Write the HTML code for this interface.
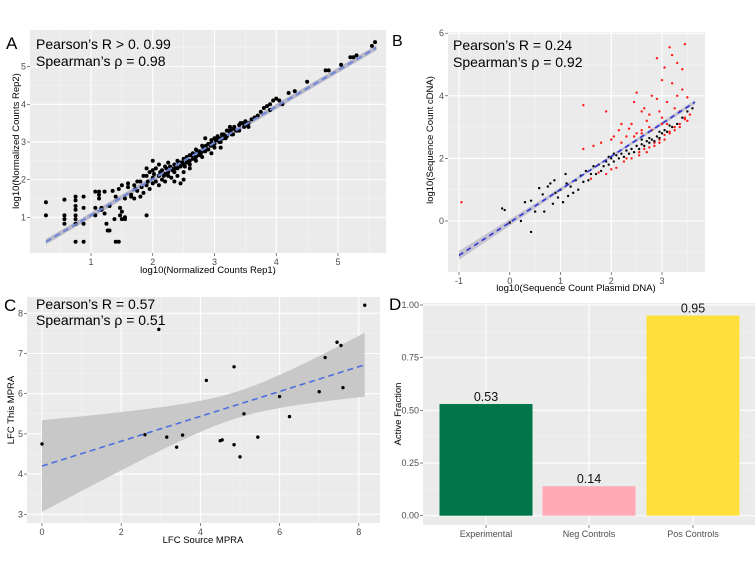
<!DOCTYPE html>
<html><head><meta charset="utf-8"><style>
html,body{margin:0;padding:0;background:#fff}
svg{display:block;font-family:"Liberation Sans",sans-serif}
</style></head><body>
<svg id="fig" width="756" height="564" viewBox="0 0 756 564"></svg>
<script>
// ---------- Panel A data ----------
const aX = [0.27,0.27,0.57,0.57,0.57,0.57,0.75,0.75,0.75,0.75,0.75,0.75,0.75,0.75,0.88,0.88,0.88,0.88,1.07,1.07,1.07,1.13,1.13,1.13,1.17,1.17,1.22,1.22,1.25,1.27,1.3,1.3,1.35,1.38,1.4,1.45,1.47,1.47,1.5,1.5,1.55,1.55,1.9,
1.6,1.65,1.7,1.75,1.8,1.8,1.85,1.9,1.95,1.95,2.0,2.0,2.0,2.05,2.05,2.1,2.1,2.15,2.15,2.2,2.2,2.2,2.25,2.25,2.3,2.3,2.35,2.35,2.4,2.4,2.4,2.45,2.45,2.5,2.5,2.5,2.55,2.55,2.6,2.6,2.6,2.65,2.65,2.7,2.7,2.7,2.75,2.75,2.8,2.8,2.8,2.85,2.85,2.9,2.9,2.95,2.95,3.0,3.0,3.0,3.05,3.05,3.1,3.1,3.15,3.15,3.2,3.2,3.25,3.3,3.3,3.35,3.4,3.45,3.5,3.5,3.6,3.7,3.75,3.8,3.9,3.9,3.95,4.0,4.1,4.3,4.2,4.5,4.8,4.85,5.05,5.2,5.25,5.3,5.55,5.6,
1.4,1.45,1.5,1.55,1.6,1.65,1.7,1.75,1.85,1.9,1.9,2.0,2.1,2.25,2.35,2.45,2.5,2.6,2.85,2.95,3.1,3.25,3.4,3.55,
2.12,2.18,2.28,2.32,2.38,2.42,2.48,2.52,2.58,2.62,2.68,2.72,2.78,2.82,2.88,2.92,2.98,3.02,3.08,3.12,3.18,3.22,3.28,3.32,3.38,3.42,3.48,2.22,2.36,2.52,2.66,2.74,2.86,2.94,3.06,3.14,3.26,1.72,1.82,1.92,2.02,3.55,3.65,3.85,4.05];
const aY = [1.4,1.05,1.47,1.05,0.95,0.83,1.55,1.45,1.3,1.2,1.05,0.95,0.83,0.35,1.55,1.25,0.83,0.35,1.68,1.25,1.05,1.68,1.6,1.5,1.25,1.2,1.68,1.1,0.83,0.65,0.65,1.3,1.7,0.95,0.35,0.35,1.05,1.25,1.15,0.95,1.0,0.95,1.05,
1.8,1.6,1.85,1.7,1.95,1.55,2.1,1.85,2.2,1.75,2.5,2.05,1.9,1.95,2.3,2.1,1.85,2.25,2.0,2.35,2.15,1.95,2.2,2.45,2.3,2.05,2.4,2.2,2.5,2.3,2.1,2.45,2.35,2.55,2.4,2.2,2.6,2.45,2.65,2.5,2.4,2.7,2.55,2.8,2.6,2.5,2.75,2.65,2.9,2.75,2.6,2.85,2.75,2.95,2.8,2.95,3.05,3.1,2.95,2.85,3.05,3.15,3.1,3.0,3.2,3.1,3.3,3.15,3.25,3.35,3.2,3.3,3.45,3.5,3.55,3.45,3.6,3.7,3.8,3.9,4.0,3.85,4.1,4.15,4.0,4.35,4.3,4.6,4.9,4.9,5.05,5.25,5.25,5.3,5.55,5.65,
1.55,1.75,1.85,1.5,1.9,1.55,1.5,1.95,1.65,2.1,2.3,2.25,2.4,2.1,1.95,1.9,2.0,2.3,3.1,2.7,2.85,3.4,3.3,3.4,
2.2,2.1,2.35,2.25,2.35,2.45,2.45,2.55,2.5,2.65,2.6,2.75,2.7,2.85,2.8,2.95,2.9,3.05,3.0,3.2,3.1,3.3,3.2,3.4,3.3,3.5,3.4,2.3,2.3,2.35,2.6,2.7,2.9,2.9,3.1,3.1,3.3,1.75,1.8,1.95,2.15,3.5,3.65,3.95,4.1];
const aTicks = [1,2,3,4,5];
// ---------- Panel B data ----------
const bBlackX = [-0.15,-0.1,0,0.22,0.3,0.42,0.42,0.5,0.58,0.65,0.68,0.75,0.8,0.85,0.88,0.9,0.95,1.0,1.05,1.1,1.12,1.15,1.2,1.25,1.3,1.35,1.4,1.45,1.5,1.55,1.6,1.65,1.7,1.75,1.8,1.85,1.9,1.95,2.0,2.05,2.1,2.15,2.2,2.25,2.3,2.35,2.4,2.45,2.5,2.55,2.6,2.65,2.7,2.75,2.8,2.85,2.9,2.95,3.0,3.05,3.1,3.2,3.3,3.4,3.5,3.6,1.95,2.05,2.6,2.75,2.95,3.15];
const bBlackY = [0.4,0.35,-0.05,0.0,0.6,0.65,-0.35,0.3,1.05,0.85,0.3,1.1,1.2,0.55,1.3,0.9,0.75,1.0,0.6,1.5,1.2,0.8,1.1,0.9,1.3,1.0,1.45,1.25,1.6,1.3,1.5,1.75,1.5,1.8,1.6,1.75,1.9,1.8,2.0,1.9,2.1,2.0,2.15,2.05,2.25,2.15,2.3,2.2,2.4,2.3,2.45,2.4,2.55,2.5,2.6,2.55,2.7,2.65,2.8,2.9,2.85,3.0,3.1,3.3,3.5,3.6,2.05,2.15,2.6,2.65,2.85,3.05];
const bRedX = [-0.95,1.45,1.9,1.45,1.65,1.8,1.9,2.0,2.05,2.1,2.15,2.2,2.25,2.3,2.35,2.4,2.4,2.45,2.5,2.5,2.55,2.6,2.6,2.65,2.7,2.7,2.75,2.8,2.8,2.85,2.9,2.9,2.95,2.95,3.0,3.0,3.05,3.05,3.1,3.1,3.15,3.15,3.2,3.2,3.25,3.25,3.3,3.3,3.35,3.35,3.4,3.4,3.45,3.45,3.5,3.5,3.55,1.6,1.75,2.0,2.3,2.55,2.65,2.75,2.85,2.95,3.05,3.15,3.25,3.35,3.45,2.2,2.45,2.6,2.75,3.0];
const bRedY = [0.6,3.7,3.5,2.3,2.4,2.5,1.5,2.6,2.7,1.7,2.9,3.1,1.9,2.7,2.95,3.1,2.0,3.8,4.1,2.8,2.1,3.5,2.9,3.6,2.2,3.2,3.4,4.0,2.9,2.4,5.2,3.9,3.5,2.5,4.5,3.3,4.9,2.6,3.8,3.1,5.55,2.8,5.3,4.4,3.6,2.9,5.05,4.0,3.5,3.0,4.85,4.2,5.65,3.3,3.95,3.2,3.4,1.35,1.55,1.65,2.0,2.2,2.3,2.35,2.5,2.6,2.75,2.85,3.0,3.1,3.25,2.5,2.7,2.8,3.0,3.1];
const bXTicks = [-1,0,1,2,3];
const bYTicks = [0,2,4,6];
// ---------- Panel C data ----------
const cX = [0,2.6,2.95,3.15,3.4,3.55,4.15,4.5,4.55,4.85,4.85,5.0,5.1,5.45,6.0,6.25,7.0,7.15,7.45,7.55,7.6,8.15];
const cY = [4.75,4.98,7.6,4.92,4.67,4.97,6.33,4.83,4.85,6.67,4.73,4.43,5.5,4.92,5.93,5.43,6.05,6.9,7.28,7.2,6.15,8.2];
const cXTicks = [0,2,4,6,8];
const cYTicks = [3,4,5,6,7,8];
// ---------- Panel D data ----------
const dCats = ["Experimental","Neg Controls","Pos Controls"];
const dVals = [0.53,0.14,0.95];
const dLabels = ["0.53","0.14","0.95"];
const dColors = ["#00754a","#ffaab4","#ffe03a"];
const dYTicks = [0,0.25,0.5,0.75,1.0];
const dYTickLabels = ["0.00","0.25","0.50","0.75","1.00"];

const NS="http://www.w3.org/2000/svg";
const svg=document.getElementById('fig');
function el(tag,attrs,parent,txt){const e=document.createElementNS(NS,tag);for(const k in attrs)e.setAttribute(k,attrs[k]);if(txt!==undefined)e.textContent=txt;(parent||svg).appendChild(e);return e;}

function panel(name,x0,y0,x1,y1,sx,sy,xt,yt,xtl,ytl,minorX,minorY){
  const g=el('g',{},svg);
  
  
  const bg=el('rect',{x:x0,y:y0,width:x1-x0,height:y1-y0,fill:'#ebebeb'},g);
  
  
  (minorX||[]).forEach(v=>el('line',{x1:sx(v),x2:sx(v),y1:y0,y2:y1,stroke:'#f5f5f5','stroke-width':0.6},g));
  (minorY||[]).forEach(v=>el('line',{y1:sy(v),y2:sy(v),x1:x0,x2:x1,stroke:'#f5f5f5','stroke-width':0.6},g));
  if(xt) xt.forEach((v,i)=>{
    el('line',{x1:sx(v),x2:sx(v),y1:y0,y2:y1,stroke:'#fff','stroke-width':1.1},g);
    el('line',{x1:sx(v),x2:sx(v),y1:y1,y2:y1+3,stroke:'#333','stroke-width':0.6},g);
    const t=el('text',{x:sx(v),y:y1+12,'font-size':9,fill:'#4d4d4d','text-anchor':'middle'},g,xtl[i]);
    
    
  });
  yt.forEach((v,i)=>{
    el('line',{y1:sy(v),y2:sy(v),x1:x0,x2:x1,stroke:'#fff','stroke-width':1.1},g);
    el('line',{y1:sy(v),y2:sy(v),x1:x0-3,x2:x0,stroke:'#333','stroke-width':0.6},g);
    const t=el('text',{x:x0-4,y:sy(v)+3,'font-size':9,fill:'#4d4d4d','text-anchor':'end'},g,ytl[i]);
    
    
  });
  return g;
}
function txt(name,x,y,s,size,extra){const t=el('text',Object.assign({x:x,y:y,'font-size':size,fill:'#000'},extra||{}),svg,s);return t;}
function halves(a,b){const r=[];for(let v=a;v<=b;v+=1)r.push(v+0.5);return r;}

// ===== Panel A =====
{
const sx=v=>91+(v-1)*61.75, sy=v=>217.3-(v-1)*37.67;
const g=panel('panel-a',30,30,386,253,sx,sy,aTicks,aTicks,aTicks.map(String),aTicks.map(String),halves(0,5),halves(0,5));
const x0=0.27,x1=5.62,f=v=>0.35+(v-0.27)*(5.5-0.35)/(5.62-0.27);
el('polygon',{points:`${sx(x0)},${sy(f(x0)+0.07)} ${sx(x1)},${sy(f(x1)+0.07)} ${sx(x1)},${sy(f(x1)-0.07)} ${sx(x0)},${sy(f(x0)-0.07)}`,fill:'#b8b8c8'},g);
aX.forEach((v,i)=>{const c=el('circle',{cx:sx(v),cy:sy(aY[i]),r:2,fill:'#000'},g);});
const ln=el('line',{x1:sx(x0),y1:sy(f(x0)),x2:sx(x1),y2:sy(f(x1)),stroke:'#6f86d6','stroke-width':2,'stroke-dasharray':'6,4'},g);

txt('panel-label-a',6,49,'A',17);
txt('stats-a-pearson',36,49,'Pearson\u2019s R > 0. 0.99',14);
txt('stats-a-spearman',36,66,'Spearman\u2019s \u03c1 = 0.98',14);
txt('x-axis-title-a',208,273,'log10(Normalized Counts Rep1)',9.5,{'text-anchor':'middle'});
txt('y-axis-title-a',19,141,'log10(Normalized Counts Rep2)',9.5,{'text-anchor':'middle',transform:'rotate(-90 19 141)'});
}
// ===== Panel B =====
{
const sx=v=>459+(v+1)*50.75, sy=v=>221-v*31.3;
const g=panel('panel-b',448,32,705,272,sx,sy,bXTicks,bYTicks,bXTicks.map(String),bYTicks.map(String),[-0.5,0.5,1.5,2.5,3.5],[-1,1,3,5]);
const x0=-1,x1=3.65,f=v=>-1.1+(v+1)*(4.9/4.65);
el('polygon',{points:`${sx(x0)},${sy(f(x0)+0.14)} ${sx(1.5)},${sy(f(1.5)+0.04)} ${sx(x1)},${sy(f(x1)+0.07)} ${sx(x1)},${sy(f(x1)-0.07)} ${sx(1.5)},${sy(f(1.5)-0.04)} ${sx(x0)},${sy(f(x0)-0.14)}`,fill:'#c4c4cf'},g);
bRedX.forEach((v,i)=>{const c=el('circle',{cx:sx(v),cy:sy(bRedY[i]),r:1.2,fill:'#ff1a1a'},g);});
bBlackX.forEach((v,i)=>{const c=el('circle',{cx:sx(v),cy:sy(bBlackY[i]),r:1.2,fill:'#000'},g);});
const ln=el('line',{x1:sx(x0),y1:sy(f(x0)),x2:sx(x1),y2:sy(f(x1)),stroke:'#3232d8','stroke-width':1.6,'stroke-dasharray':'5,4'},g);

txt('panel-label-b',392,46,'B',16);
txt('stats-b-pearson',453,50,'Pearson\u2019s R = 0.24',14);
txt('stats-b-spearman',453,67,'Spearman\u2019s \u03c1 = 0.92',14);
txt('x-axis-title-b',576,291,'log10(Sequence Count Plasmid DNA)',9.5,{'text-anchor':'middle'});
txt('y-axis-title-b',433,140,'log10(Sequence Count cDNA)',9.5,{'text-anchor':'middle',transform:'rotate(-90 433 140)'});
}
// ===== Panel C =====
{
const sx=v=>42+v*39.6, sy=v=>313.3-(v-8)*40.2;
const g=panel('panel-c',27,297,380,523,sx,sy,cXTicks,cYTicks,cXTicks.map(String),cYTicks.map(String),[1,3,5,7],[3.5,4.5,5.5,6.5,7.5]);
const a=4.2,b=(6.72-4.2)/8.15,f=v=>a+b*v,h=v=>Math.sqrt(0.109+0.0496*(v-4.9)*(v-4.9));
let up=[],lo=[];
for(let i=0;i<=40;i++){const v=8.15*i/40;up.push(sx(v)+','+sy(f(v)+h(v)));lo.unshift(sx(v)+','+sy(f(v)-h(v)));}
const band=el('polygon',{points:up.concat(lo).join(' '),fill:'#c8c8c8'},g);

cX.forEach((v,i)=>{const c=el('circle',{cx:sx(v),cy:sy(cY[i]),r:1.7,fill:'#000'},g);});
const ln=el('line',{x1:sx(0),y1:sy(f(0)),x2:sx(8.15),y2:sy(f(8.15)),stroke:'#4d6fe0','stroke-width':1.6,'stroke-dasharray':'6,4'},g);

txt('panel-label-c',4,311,'C',17);
txt('stats-c-pearson',36,309,'Pearson\u2019s R = 0.57',14);
txt('stats-c-spearman',36,325,'Spearman\u2019s \u03c1 = 0.51',14);
txt('x-axis-title-c',203,543,'LFC Source MPRA',9.5,{'text-anchor':'middle'});
txt('y-axis-title-c',14,410,'LFC This MPRA',9.5,{'text-anchor':'middle',transform:'rotate(-90 14 410)'});
}
// ===== Panel D =====
{
const centers=[486,589,693];
const sx=i=>centers[i], sy=v=>515.7-v*210.7;
const g=panel('panel-d',423,303,755,525,sx,sy,null,dYTicks,null,dYTickLabels,null,[0.125,0.375,0.625,0.875]);
dCats.forEach((c,i)=>{
  el('line',{x1:sx(i),x2:sx(i),y1:303,y2:525,stroke:'#fff','stroke-width':1.1},g);
  el('line',{x1:sx(i),x2:sx(i),y1:525,y2:528,stroke:'#333','stroke-width':0.6},g);
});
dVals.forEach((v,i)=>{
  const r=el('rect',{x:sx(i)-46.5,y:sy(v),width:93,height:sy(0)-sy(v),fill:dColors[i]},g);
  
  
  const t=el('text',{x:sx(i),y:sy(v)-3,'font-size':12.5,'text-anchor':'middle',fill:'#111'},g,dLabels[i]);
  
  
  const c=el('text',{x:sx(i),y:537,'font-size':9,'text-anchor':'middle',fill:'#4d4d4d'},g,dCats[i]);
  
  
});
txt('panel-label-d',389,310,'D',17);
txt('y-axis-title-d',401,414,'Active Fraction',9.5,{'text-anchor':'middle',transform:'rotate(-90 401 414)'});
}
</script>
</body></html>
